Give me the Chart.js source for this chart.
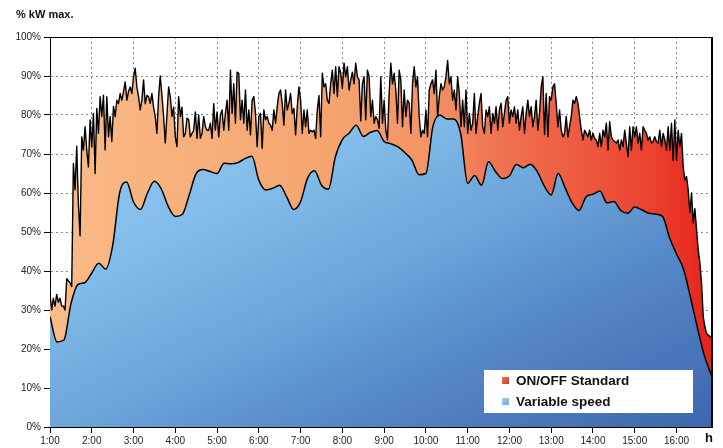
<!DOCTYPE html>
<html><head><meta charset="utf-8">
<script src="https://cdn.jsdelivr.net/npm/chart.js@4.4.1/dist/chart.umd.min.js"></script>
<style>
html,body{margin:0;padding:0;background:#fff;}
#wrap{position:relative;width:723px;height:448px;font-family:"Liberation Sans",Arial,Helvetica,sans-serif;overflow:hidden}
#wrap canvas{position:absolute;left:0;top:0}
.ttl{position:absolute;left:16px;top:8px;font-weight:bold;font-size:11px;color:#111}
.hl{position:absolute;left:705px;top:430px;font-weight:bold;font-size:13px;color:#111}
.legend{position:absolute;left:484px;top:370px;width:209px;height:43px;background:#fff}
.li{position:absolute;left:18px;font-weight:bold;font-size:13.5px;color:#111;line-height:14px;white-space:nowrap}
.sw{display:inline-block;width:7px;height:7px;margin-right:7px;vertical-align:1px}
</style></head>
<body>
<div id="wrap">
<canvas id="c" width="723" height="448"></canvas>
<div class="ttl">% kW max.</div>
<div class="hl">h</div>
<div class="legend">
 <div class="li" style="top:4px"><span class="sw" style="background:linear-gradient(135deg,#e8784a,#c8402a)"></span>ON/OFF Standard</div>
 <div class="li" style="top:25px"><span class="sw" style="background:linear-gradient(135deg,#a8cdec,#7aa6d2)"></span>Variable speed</div>
</div>
</div>
<script>
// ---- data (percent of kW max.) ----
const hourLabels = ['1:00','2:00','3:00','4:00','5:00','6:00','7:00','8:00','9:00','10:00','11:00','12:00','13:00','14:00','15:00','16:00'];
const startHour = 1;
const onOffStepH = 1/25;     // ON/OFF samples every 2.4 minutes
const variableStepH = 10/60; // Variable speed samples every 10 minutes

const onOffStandard = [
 34,30,33,31,34,32,33,31,31,30,
 38,37.5,37,36,67.6,60.8,72,57,49,74.4,
 71,77,71,66.7,78.7,71.8,80.4,65,81.7,75.3,
 84.7,79.6,85.1,71,84.7,74.4,79.6,73.2,82.2,79.6,
 83.8,82.9,85.5,83.8,86,88.5,83.8,86,87.2,85.5,
 89.8,92,87.2,84.7,81.3,83.8,89,82.9,85,84.7,
 83,85.5,82,79.6,75.3,84.7,
 90,85,79.6,72.8,
 80,87.2,84.7,79.6,82,74.4,71.9,84.7,79.6,82,
 74.4,75.3,79.2,78.8,74.4,75.3,76.1,80.8,74,80,
 74,75.3,79.6,77,76.1,76.1,77.9,74,82.9,76.1,
 80.8,74.4,80,81.3,76.1,80.4,83.8,76.1,91.5,80.4,
 88,77.9,91,90.7,78.8,83.8,77.9,86.4,76.1,81.3,
 74.9,83.8,84.7,80.4,71.9,79.6,80.4,71.4,81.3,78.8,
 79.6,77.9,
 77.4,76.1,81.3,77.9,82.1,85.5,86.4,83,
 77.4,86.4,81.3,83,85.5,80.4,81.7,74.9,82.1,87.2,
 83.8,75.3,81.3,77,81.3,75.3,76.1,75.7,76.1,74,
 81.3,85,74.4,90.7,87.2,88,83.8,83,88,91.5,
 85.5,92.4,84.7,92.4,90.7,86.8,93.3,89.8,92.4,86.4,
 89,91,88,93.3,89.8,89,78.5,88,89.8,78.8,
 91.5,89.8,79.6,83.8,77.9,79.6,78.8,76.6,
 89.8,77.9,
 83.8,76.1,73.6,85.5,93.3,88,90.7,86.4,77.9,91.5,
 89,77,86.4,79.6,83.8,83,75.3,88,92.4,87.2,
 89.8,79.6,74.4,76.1,75.3,81.3,74.4,86.4,88,89,
 85.5,91.5,79.6,84.7,88,86.4,87.2,89.8,94,88,
 89.8,83.8,86.4,81.3,89.8,85.5,77,83.8,77,86.4,
 75.3,80.4,76.1,77.9,85.5,75.3,79.6,83,85.5,77,
 75.3,81.3,79.6,
 82.1,75.3,80.4,77.9,82.1,76.1,81.3,
 83,77,80.4,83.8,84.7,77.9,81.3,79.6,82.1,77.9,
 81.3,76.1,79.6,82.1,75.3,80.4,83.8,79.6,82.1,77,
 79.6,83.8,76.1,80.4,87.2,89.8,75,85.5,74.4,84.7,
 83.8,87.2,88,83,77,81.3,76.1,74.4,75.3,79.6,
 74.4,77,79.6,83.8,83,84.7,83,79.6,76.1,73.6,
 76.1,75.3,74.4,76.1,73.6,75.3,74,73.6,71.9,
 75.3,71.9,76.1,74.4,77.9,71,78.3,74.4,73.6,73.2,72.8,
 73.6,71,73.6,71.9,76.1,72.8,69.3,77,71,77,
 74.4,77,72.8,75.3,71,77,76.1,75.3,73.6,74.4,
 72.8,73.2,74.4,73.2,72.8,76.1,71.9,75.3,73.6,71,
 77,71,77.9,68.4,78.7,68.4,76.1,71.9,75.3,66.7,
 63.3,64.2,60.8,55,60,52.3,56,50.6,45.4,42,
 36.8,28.3,25.7,24,23.6,23.2,23
];

const variableSpeed = [
 28.3,21.8,22.3,31.5,36.5,37,39.5,42,40.5,46.5,
 60,62.8,57.7,55.8,60,63,61,56.5,54,54.5,
 59.5,65,66,65.5,65,67.6,67.5,67.8,68.8,69.4,
 63.3,60.8,61.2,62,59,55.8,57.8,63.8,65.7,62,
 61,69.3,73.7,75.4,77.4,74.5,75.5,76,73.2,72.6,
 71.8,70.3,68.4,64.7,65,77,80,79,79,75.2,
 62.5,64.5,62,68,65.5,63.7,64.4,67.3,66.5,67.4,
 65.5,61.8,59.5,65,61.3,57.5,55.5,59,59.7,60.5,
 57.5,57.8,55.5,54.8,56.4,55.7,54.8,54.6,54,48.5,
 44.4,40.5,33.3,25.5,18.3,13.3
];

const toPoints = (vals, step) => vals.map((v, i) => ({x: startHour + i * step, y: v}));

function blueFill(context){
  const chart = context.chart, a = chart.chartArea;
  if (!a) return '#7ab0e0';
  const w = a.right - a.left, h = a.bottom - a.top;
  const g = chart.ctx.createLinearGradient(a.left, a.top, a.left + w * 0.427, a.top + h * 1.477);
  g.addColorStop(0, '#9ad0f4');
  g.addColorStop(0.36, '#82bcea');
  g.addColorStop(0.55, '#6ca6da');
  g.addColorStop(0.73, '#5688c8');
  g.addColorStop(1, '#3e66ae');
  return g;
}
function orangeFill(context){
  const chart = context.chart, a = chart.chartArea;
  if (!a) return '#f4a070';
  const g = chart.ctx.createLinearGradient(a.left, 0, a.right, 0);
  g.addColorStop(0, '#f9bb88');
  g.addColorStop(0.40, '#f6a670');
  g.addColorStop(0.58, '#f49264');
  g.addColorStop(0.66, '#f07854');
  g.addColorStop(0.78, '#ee5e42');
  g.addColorStop(0.90, '#eb4430');
  g.addColorStop(1, '#e6221c');
  return g;
}

const frame = {
  id: 'frame',
  afterDatasetsDraw(chart){
    const {ctx, chartArea: a} = chart;
    ctx.save();
    ctx.strokeStyle = '#000';
    ctx.lineWidth = 1;
    ctx.beginPath(); ctx.moveTo(a.left, a.top + 0.5); ctx.lineTo(a.right, a.top + 0.5); ctx.stroke();
    ctx.lineWidth = 2;
    ctx.beginPath(); ctx.moveTo(a.right, a.top); ctx.lineTo(a.right, a.bottom); ctx.stroke();
    ctx.restore();
  }
};

const tickFont = {family: '"Liberation Sans", Arial, Helvetica, sans-serif', size: 10};

new Chart(document.getElementById('c'), {
  type: 'line',
  data: {
    datasets: [
      {
        label: 'Variable speed',
        data: toPoints(variableSpeed, variableStepH),
        borderColor: '#000', borderWidth: 1.5, pointRadius: 0, tension: 0.3,
        cubicInterpolationMode: 'monotone',
        fill: 'origin', backgroundColor: blueFill
      },
      {
        label: 'ON/OFF Standard',
        data: toPoints(onOffStandard, onOffStepH),
        borderColor: '#000', borderWidth: 1.4, pointRadius: 0, tension: 0,
        borderJoinStyle: 'round',
        fill: 'origin', backgroundColor: orangeFill
      }
    ]
  },
  options: {
    responsive: false,
    animation: false,
    layout: {padding: {top: 37, right: 11, bottom: 0, left: 0}},
    plugins: {
      legend: {display: false},
      tooltip: {enabled: false},
      filler: {drawTime: 'beforeDatasetsDraw'}
    },
    scales: {
      x: {
        type: 'linear', min: 1, max: 16.85,
        afterFit: s => { s.height = 21; },
        afterBuildTicks: s => { s.ticks = s.ticks.filter(t => Number.isInteger(t.value)); },
        ticks: {stepSize: 1, includeBounds: false, autoSkip: false, maxRotation: 0, padding: 2,
          color: '#222', font: tickFont,
          callback: v => hourLabels[v - startHour]},
        grid: {color: '#8a8a8a', lineWidth: 1, tickLength: 6, tickColor: '#000'},
        border: {display: true, color: '#000', width: 1, dash: [2, 3]}
      },
      y: {
        min: 0, max: 100,
        afterFit: s => { s.width = 50; },
        ticks: {stepSize: 10, padding: 3, color: '#222', font: tickFont, callback: v => v + '%'},
        grid: {color: '#8a8a8a', lineWidth: 1, tickLength: 6, tickColor: '#000'},
        border: {display: true, color: '#000', width: 1, dash: [2, 3]}
      }
    }
  },
  plugins: [frame]
});
</script>
</body></html>
